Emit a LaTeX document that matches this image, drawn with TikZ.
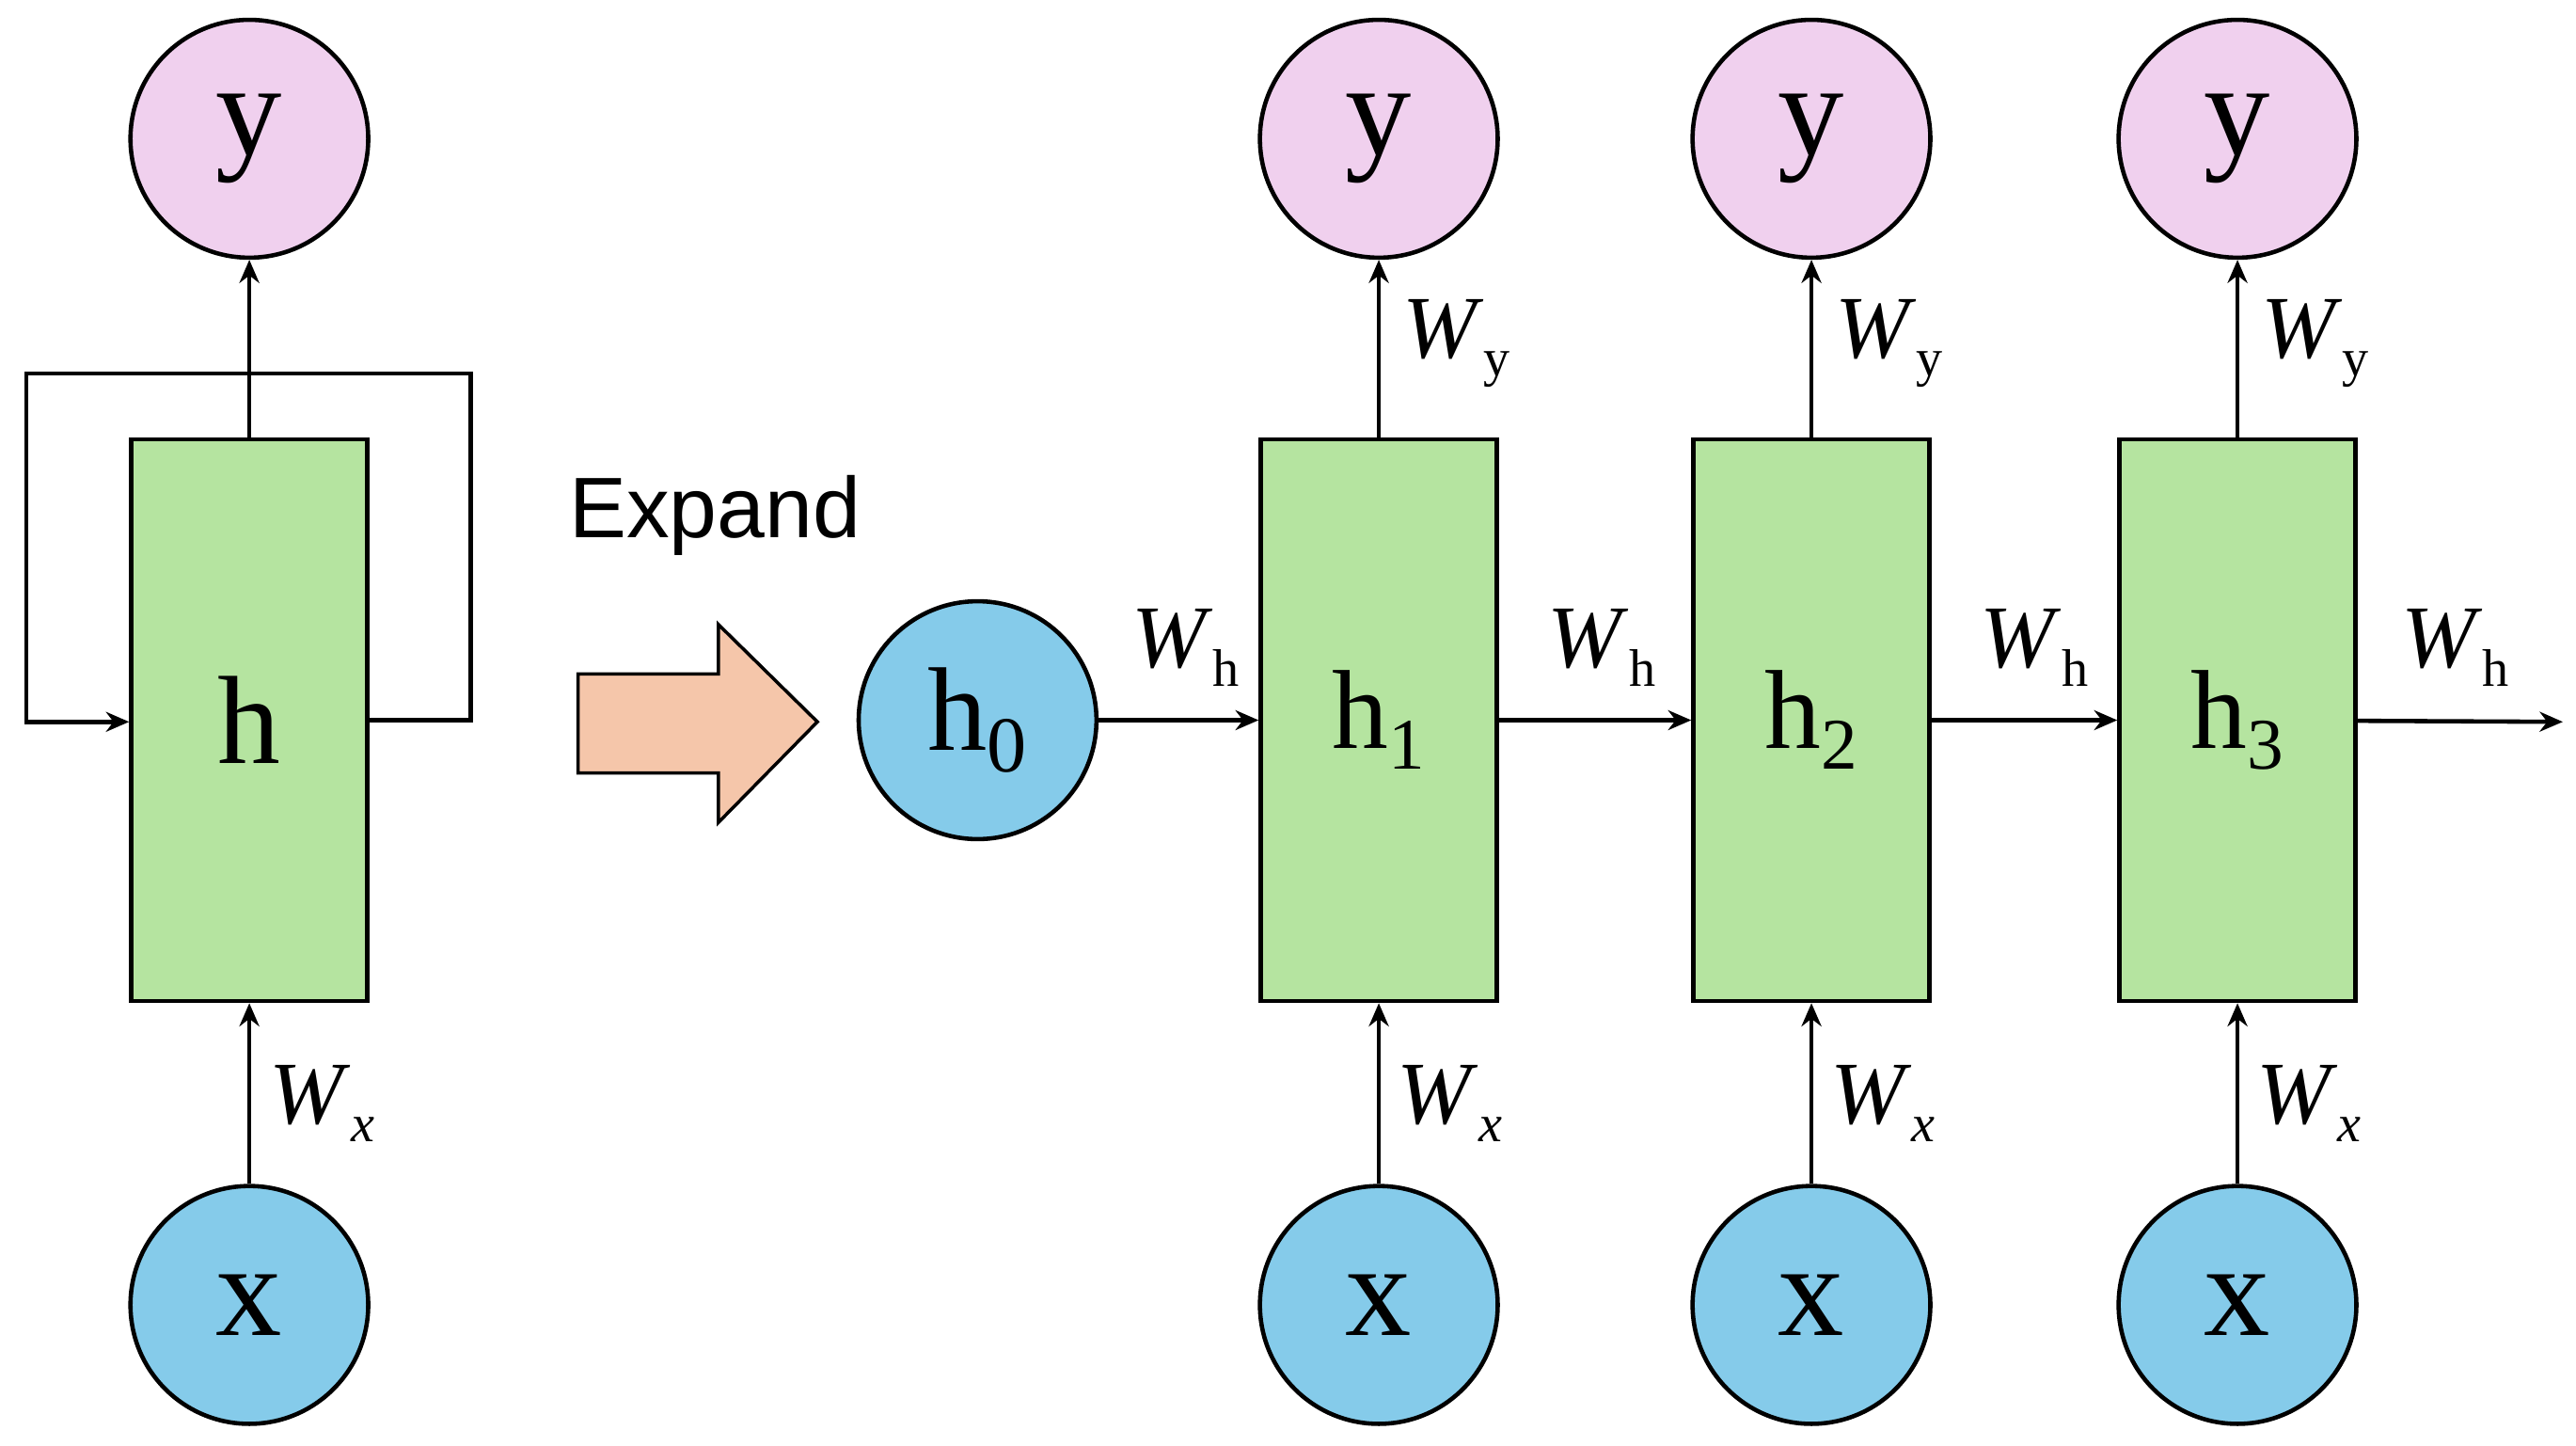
\documentclass[tikz,border=0pt]{standalone}
\usepackage{fontspec}
\setmainfont{Liberation Serif}
\newfontfamily\sansf{Liberation Sans}
\usetikzlibrary{arrows.meta}
\definecolor{pinkc}{RGB}{240,208,238}
\definecolor{greenc}{RGB}{181,228,160}
\definecolor{bluec}{RGB}{133,203,234}
\definecolor{peachc}{RGB}{245,198,170}
\newcommand{\wlab}[2]{\textit{W}\raisebox{-0.45ex}{\fontsize{16}{16}\selectfont #1}}
\begin{document}
\begin{tikzpicture}[x=0.01756cm,y=-0.01756cm,line width=1.3pt,
  circ/.style={circle,draw,minimum size=144*0.01756cm,inner sep=0pt,font=\fontsize{40}{40}\selectfont},
  cell/.style={rectangle,draw,fill=greenc,minimum width=143*0.01756cm,minimum height=340*0.01756cm,inner sep=0pt,font=\fontsize{38}{38}\selectfont},
  arr/.style={-{Stealth[length=7pt,width=6pt]}},
  lab/.style={font=\fontsize{27}{27}\selectfont,inner sep=0pt}]
\useasboundingbox (0,0) rectangle (1560,875);
% left folded network
\node[circ,fill=pinkc] (y0) at (151,84) {y};
\node[cell] (h) at (151,436) {h};
\node[circ,fill=bluec] (x0) at (151,790) {x};
\draw[arr] (h.north) -- (y0);
\draw[arr] (x0) -- (h.south);
\node[lab] (wx0) at (195,668) {\wlab{\textit{x}}{}};
\coordinate (c1) at (285,436);
\coordinate (c2) at (285,226);
\coordinate (c3) at (16,226);
\coordinate (c4) at (16,437);
\draw[arr] (h.east |- c1) -- (c1) -- (c2) -- (c3) -- (c4) -- (h.west |- c4);
% expand
\node[font=\sansf\fontsize{26}{26}\selectfont] (exp) at (433,312) {Expand};
\draw[fill=peachc,line width=1pt] (350,408) -- (435,408) -- (435,378) -- (495,437) -- (435,498) -- (435,468) -- (350,468) -- cycle;
% unrolled
\node[circ,fill=bluec,font=\fontsize{36}{36}\selectfont] (h0) at (592,436) {h\raisebox{-0.4ex}{\fontsize{24}{24}\selectfont 0}};
\foreach \i/\xx in {1/835,2/1097,3/1355}{
  \node[cell,font=\fontsize{34}{34}\selectfont] (h\i) at (\xx,436) {h\raisebox{-0.4ex}{\fontsize{22}{22}\selectfont\i}};
  \node[circ,fill=pinkc] (y\i) at (\xx,84) {y};
  \node[circ,fill=bluec] (x\i) at (\xx,790) {x};
  \draw[arr] (h\i.north) -- (y\i);
  \draw[arr] (x\i) -- (h\i.south);
  \node[lab] (wy\i) at (\xx+47,208) {\wlab{y}{}};
  \node[lab] (wx\i) at (\xx+43,668) {\wlab{\textit{x}}{}};
}
\coordinate (end) at (1552,437);
\draw[arr] (h0) -- (h1);
\draw[arr] (h1) -- (h2);
\draw[arr] (h2) -- (h3);
\draw[arr] (h3) -- (end);
\node[lab] (wh0) at (718,392) {\wlab{h}{}};
\node[lab] (wh1) at (970,392) {\wlab{h}{}};
\node[lab] (wh2) at (1232,392) {\wlab{h}{}};
\node[lab] (wh3) at (1487,392) {\wlab{h}{}};
\end{tikzpicture}
\end{document}
